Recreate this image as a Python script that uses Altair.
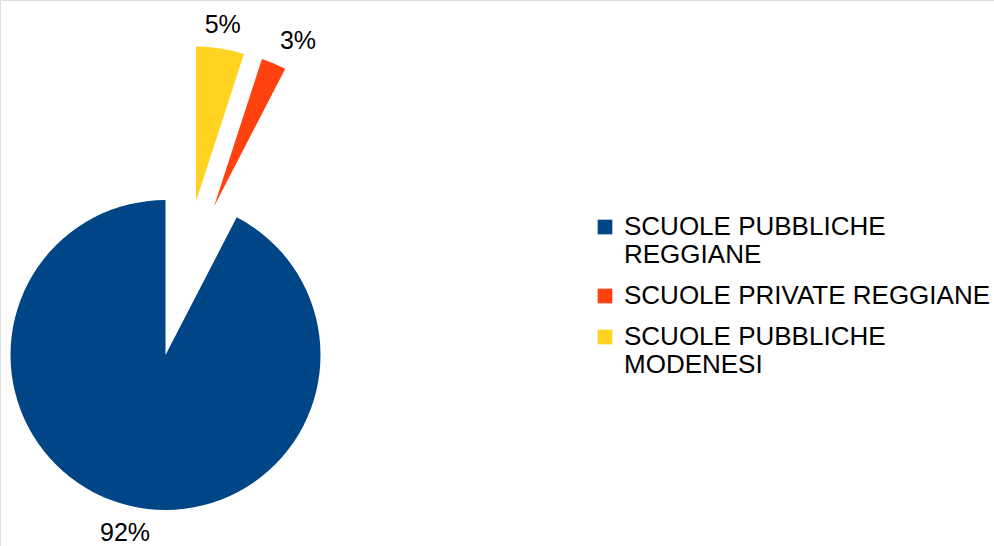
import altair as alt
import pandas as pd

# ---- data (drawing order: clockwise from 12 o'clock) ----
categories = ["SCUOLE PUBBLICHE MODENESI", "SCUOLE PRIVATE REGGIANE", "SCUOLE PUBBLICHE REGGIANE"]
shares = [5.0, 2.6, 92.4]
legend_order = ["SCUOLE PUBBLICHE REGGIANE", "SCUOLE PRIVATE REGGIANE", "SCUOLE PUBBLICHE MODENESI"]

# ---- style / layout ----
colors = ["#004586", "#ff420e", "#ffd320"]
CX, CY = 165.5, 355.0
R = 155
LABEL_R = 171
explode_dx = [30.5, 48.5, 0.0]     # exploded slice offsets (px)
explode_dy = [-153.5, -148.5, 0.0]
FONT = "Liberation Sans"

df = pd.DataFrame({
    "category": categories,
    "share": shares,
    "order": list(range(len(categories))),
    "dx": explode_dx,
    "dy": explode_dy,
})

base = (
    alt.Chart(df)
    .transform_joinaggregate(total="sum(share)")
    .transform_window(cum="sum(share)", sort=[alt.SortField("order")], frame=[None, 0])
    .transform_calculate(
        t0="(datum.cum - datum.share) / datum.total * 2 * PI",
        t1="datum.cum / datum.total * 2 * PI",
        cx=f"{CX} + datum.dx",
        cy=f"{CY} + datum.dy",
        pct="format(datum.share / datum.total, '.0%')",
    )
    .transform_calculate(tm="(datum.t0 + datum.t1) / 2")
)

label_expr = (
    "datum.label === 'SCUOLE PUBBLICHE REGGIANE' ? ['SCUOLE PUBBLICHE', 'REGGIANE'] : "
    "datum.label === 'SCUOLE PUBBLICHE MODENESI' ? ['SCUOLE PUBBLICHE', 'MODENESI'] : datum.label"
)

arcs = base.mark_arc(radius=R).encode(
    x=alt.X("cx:Q", scale=None, axis=None),
    y=alt.Y("cy:Q", scale=None, axis=None),
    theta=alt.Theta("t0:Q", scale=None, stack=None),
    theta2="t1:Q",
    color=alt.Color(
        "category:N",
        scale=alt.Scale(domain=legend_order, range=colors),
        legend=alt.Legend(
            title=None,
            orient="none",
            legendX=592,
            legendY=214,
            symbolType="square",
            symbolSize=215,
            symbolStrokeWidth=0,
            labelFont=FONT,
            labelFontSize=26,
            labelColor="black",
            labelLimit=0,
            labelOffset=6,
            rowPadding=15,
            padding=0,
            labelExpr=label_expr,
        ),
    ),
)

labels = base.mark_text(
    font=FONT,
    fontSize=25,
    color="black",
    align=alt.expr("sin(datum.tm) > 0.3 ? 'left' : (sin(datum.tm) < -0.3 ? 'right' : 'center')"),
    baseline=alt.expr("cos(datum.tm) > 0.3 ? 'alphabetic' : (cos(datum.tm) < -0.3 ? 'top' : 'middle')"),
).encode(
    x=alt.X("cx:Q", scale=None, axis=None),
    y=alt.Y("cy:Q", scale=None, axis=None),
    theta=alt.Theta("tm:Q", scale=None, stack=None),
    radius=alt.value(LABEL_R),
    text="pct:N",
)

chart = (
    alt.layer(arcs, labels)
    .properties(width=994, height=546, padding=0, autosize=alt.AutoSizeParams(type="none"))
    .configure_view(stroke=None)
    .configure(background="white")
)

chart.save("out.html", embed_options={"renderer": "svg", "actions": False})
